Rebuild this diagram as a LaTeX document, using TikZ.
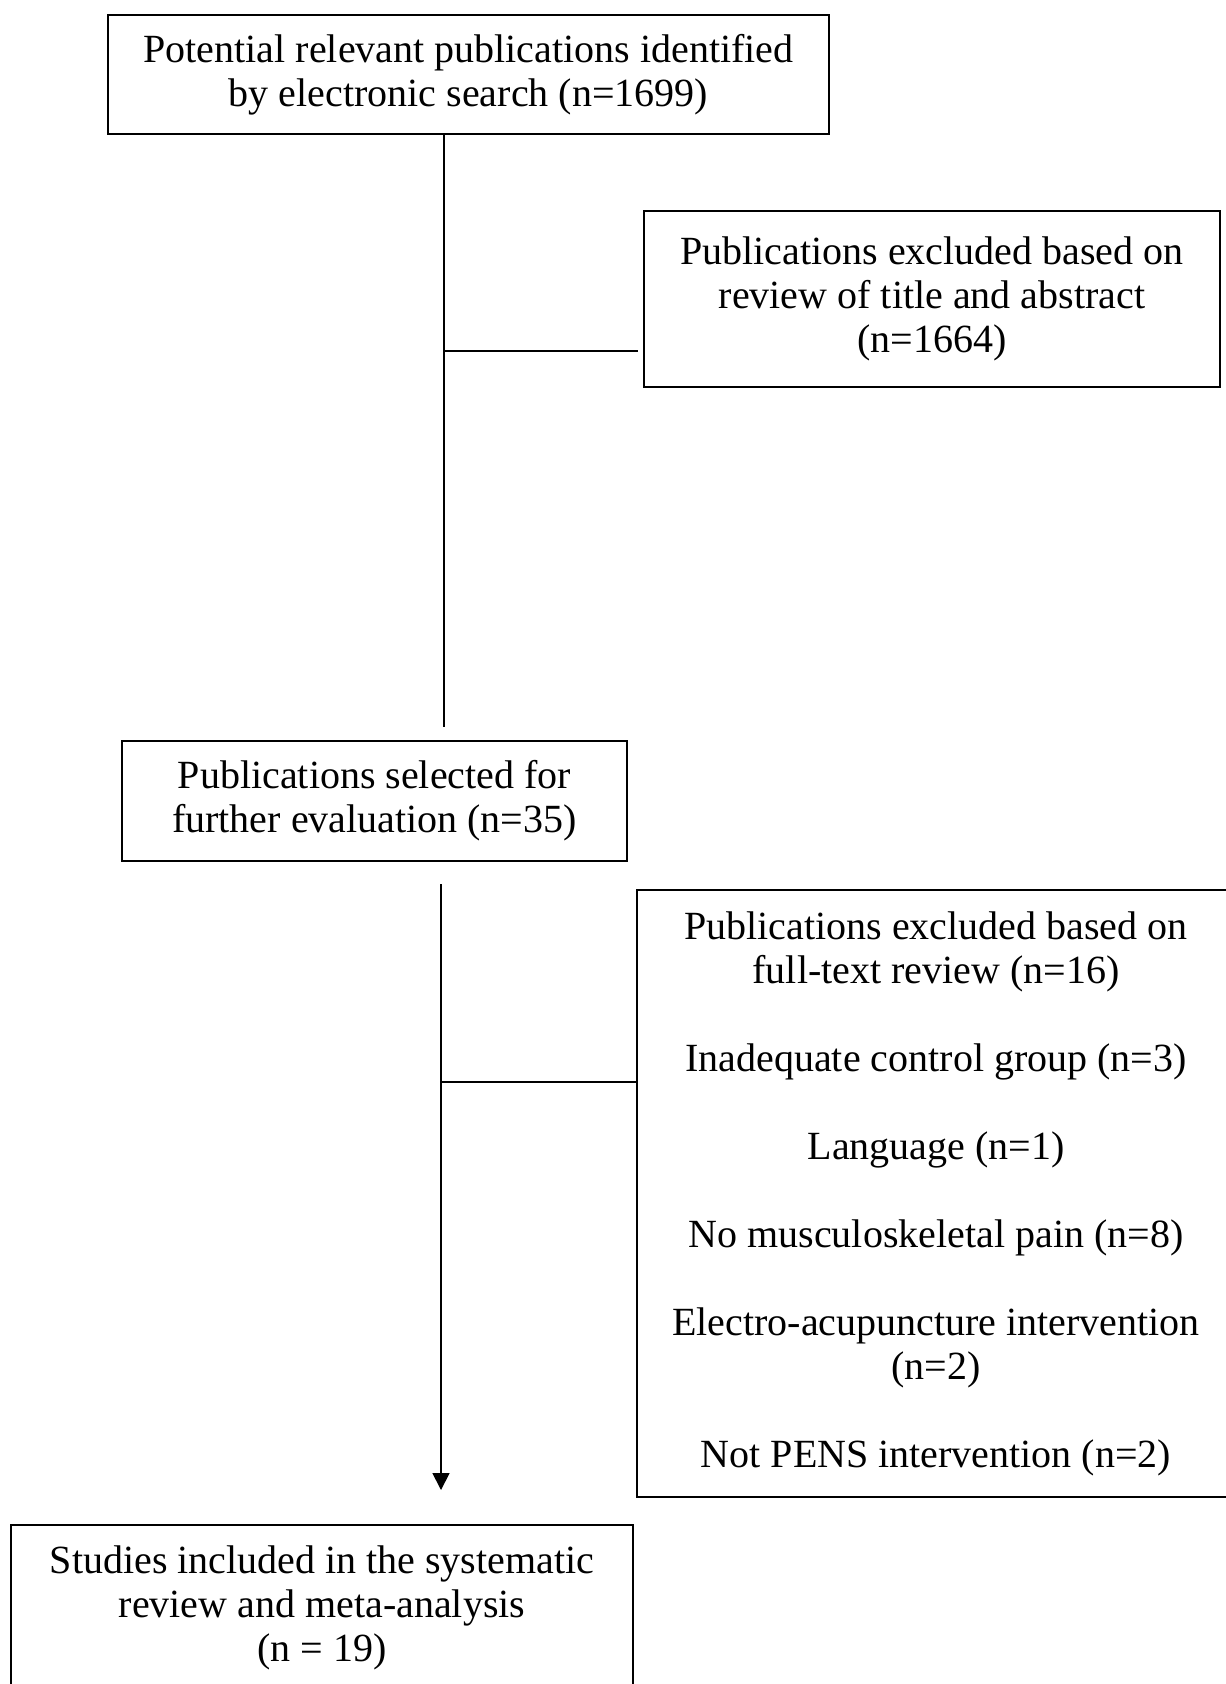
\documentclass[tikz,border=0pt]{standalone}
\usepackage{fontspec}
\setmainfont{Liberation Serif}
\usepackage{tikz}
\usetikzlibrary{arrows.meta}

\begin{document}
\begin{tikzpicture}[x=0.5pt, y=-0.5pt,
    flowbox/.style={draw, line width=1pt, align=center, inner sep=0pt,
      font=\fontsize{20}{22}\selectfont},
    link/.style={line width=0.9pt}]
  \useasboundingbox (0,0) rectangle (1225,1684);

  % Identification
  \node[flowbox, minimum width=360.5pt, minimum height=59.5pt] (search) at (468.5,74.5)
    {Potential relevant publications identified\\by electronic search (n=1699)};
  \node[flowbox, minimum width=288pt, minimum height=88pt] (excltitle) at (932,299)
    {Publications excluded based on\\review of title and abstract\\(n=1664)};

  % Screening
  \node[flowbox, minimum width=252.5pt, minimum height=60pt] (selected) at (374.5,801)
    {Publications selected for\\further evaluation (n=35)};
  \node[flowbox, minimum width=299pt, minimum height=303.5pt] (exclfull) at (936,1193.5)
    {Publications excluded based on\\full-text review (n=16)\\[22pt]
     Inadequate control group (n=3)\\[22pt]
     Language (n=1)\\[22pt]
     No musculoskeletal pain (n=8)\\[22pt]
     Electro-acupuncture intervention\\(n=2)\\[22pt]
     Not PENS intervention (n=2)};

  % Included
  \node[flowbox, minimum width=311pt, minimum height=82.5pt] (included) at (322,1607.5)
    {Studies included in the systematic\\review and meta-analysis\\(n = 19)};

  % Connectors
  \coordinate (endA) at (444,727);
  \coordinate (stubA) at (638,351);
  \draw[link] (search.south -| endA) -- (endA);
  \draw[link] (stubA -| endA) -- (stubA);

  \coordinate (startB) at (441,884);
  \coordinate (endB) at (441,1490);
  \coordinate (stubB) at (exclfull.west |- 0,1082);
  \draw[link, -{Triangle[width=8.5pt, length=8.5pt]}] (startB) -- (endB);
  \draw[link] (stubB -| startB) -- (stubB);
\end{tikzpicture}
\end{document}
